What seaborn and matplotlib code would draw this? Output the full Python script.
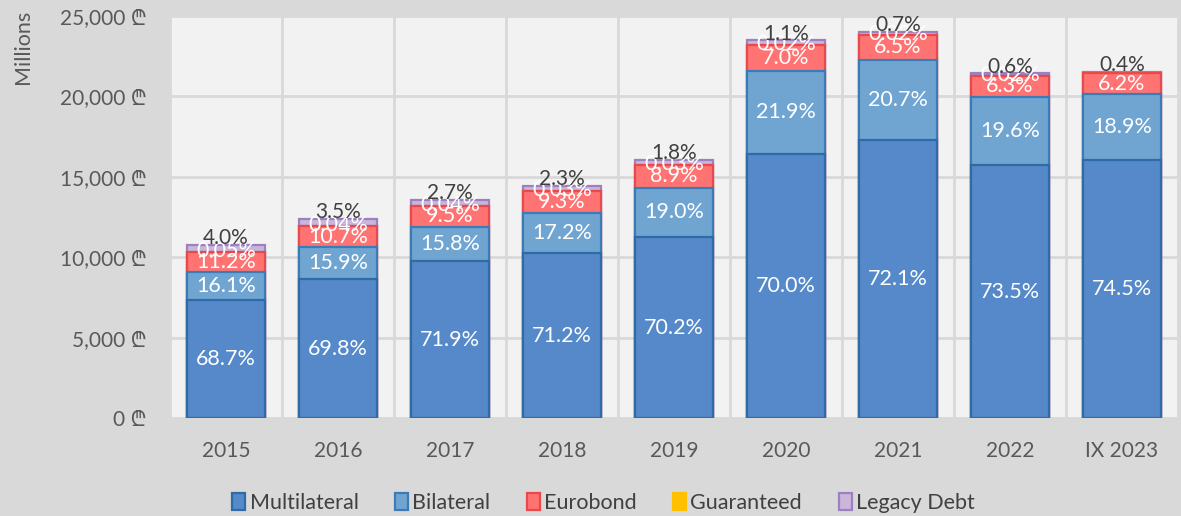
import numpy as np
import pandas as pd
import seaborn as sns
import matplotlib.pyplot as plt
from matplotlib.patches import Patch
from matplotlib.ticker import FuncFormatter

# categories and bar totals (millions)
years = ['2015', '2016', '2017', '2018', '2019', '2020', '2021', '2022', 'IX 2023']
totals = [10750, 12400, 13580, 14450, 16070, 23480, 24000, 21430, 21550]

# shares of each series in %, as printed on the bars
multilateral = [68.7, 69.8, 71.9, 71.2, 70.2, 70.0, 72.1, 73.5, 74.5]
bilateral = [16.1, 15.9, 15.8, 17.2, 19.0, 21.9, 20.7, 19.6, 18.9]
eurobond = [11.2, 10.7, 9.5, 9.3, 8.9, 7.0, 6.5, 6.3, 6.2]
guaranteed = [0.05, 0.04, 0.04, 0.03, 0.03, 0.02, 0.02, 0.02, 0.0]
legacy = [4.0, 3.5, 2.7, 2.3, 1.8, 1.1, 0.7, 0.6, 0.4]

series = ['Multilateral', 'Bilateral', 'Eurobond', 'Guaranteed', 'Legacy Debt']
shares = [multilateral, bilateral, eurobond, guaranteed, legacy]
fills = ['#5589c9', '#70a5d2', '#ff7373', '#ffc000', '#c9b6da']
edges = ['#2f6ca5', '#3b7bb6', '#e84a4a', '#ffc000', '#9d80c2']

sns.set_theme(style='white')
plt.rcParams['font.family'] = ['Lato', 'Noto Sans', 'DejaVu Sans']

fig = plt.figure(figsize=(11.81, 5.16), dpi=100, facecolor='#d9d9d9')
ax = fig.add_axes([0.144, 0.189, 0.8535, 0.78])
ax.set_facecolor('#f2f2f2')

# segment heights in millions
heights = np.array([[t * s / 100 for t, s in zip(totals, sh)] for sh in shares])
cum = np.cumsum(heights, axis=0)

# stacked bars: draw cumulative tops from the top series down
for k in range(len(series) - 1, -1, -1):
    df = pd.DataFrame({'year': years, 'value': cum[k]})
    ec = edges[4] if k == 3 else edges[k]  # guaranteed slice is too thin to show
    sns.barplot(data=df, x='year', y='value', color=fills[k], edgecolor=ec,
                linewidth=1.6, width=0.69, saturation=1, ax=ax, zorder=3)

# labels
for i in range(len(years)):
    for k in range(4):
        v = shares[k][i]
        if v == 0:
            continue
        y = cum[k][i] - heights[k][i] / 2
        txt = f'{v:.2f}%' if k == 3 else f'{v:.1f}%'
        if k == 3:
            y = cum[k][i] + 60
        ax.text(i, y, txt, ha='center', va='center', color='white', fontsize=15.5, zorder=5)
    ax.text(i, totals[i] + 430, f'{legacy[i]:.1f}%', ha='center', va='center',
            color='#404040', fontsize=15, zorder=5)

ax.set_ylim(0, 25000)
ax.set_xlim(-0.5, len(years) - 0.5)
ax.set_yticks(range(0, 25001, 5000))
ax.yaxis.set_major_formatter(FuncFormatter(lambda v, p: f'{v:,.0f} \u20be'))
ax.set_xticks(np.arange(len(years) + 1) - 0.5, minor=True)
ax.grid(False)
ax.grid(axis='y', which='major', color='#d9d9d9', linewidth=2, zorder=0)
ax.grid(axis='x', which='minor', color='#d9d9d9', linewidth=2, zorder=0)
ax.set_axisbelow(True)
for s in ax.spines.values():
    s.set_visible(False)
ax.tick_params(axis='both', which='both', length=0, labelsize=15, colors='#595959')
ax.tick_params(axis='x', pad=16)
ax.tick_params(axis='y', pad=17)
ax.set_xlabel('')
ax.set_ylabel('')
fig.text(0.0195, 0.909, 'Millions', rotation=90, ha='center', va='center',
         fontsize=15.5, color='#595959')

handles = [Patch(facecolor=f, edgecolor=e, linewidth=1.6) for f, e in zip(fills, edges)]
fig.legend(handles, series, loc='center', bbox_to_anchor=(0.511, 0.026), ncol=5,
           frameon=False, fontsize=15.5, handlelength=0.6, handleheight=0.85,
           handletextpad=0.2, columnspacing=1.7, labelcolor='#404040')

fig.savefig('out.png', dpi=100, facecolor=fig.get_facecolor())
